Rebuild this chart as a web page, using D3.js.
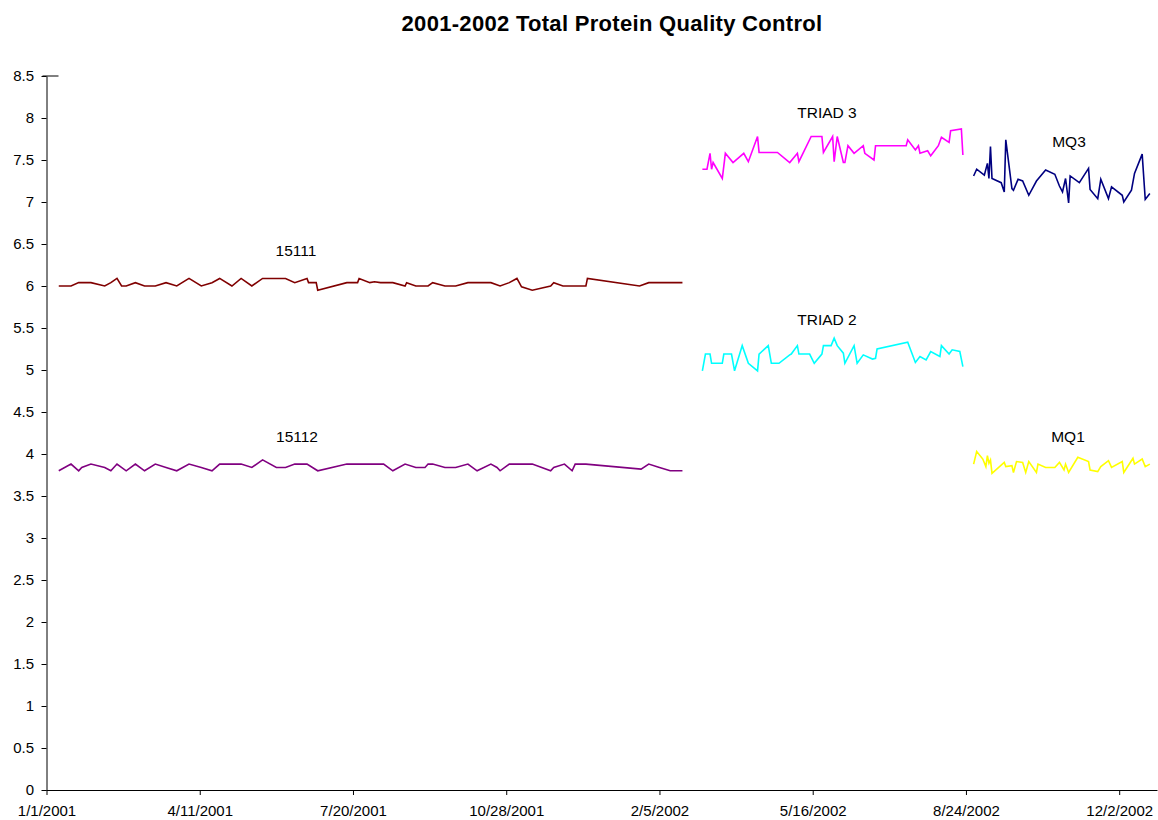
<!DOCTYPE html>
<html><head><meta charset="utf-8">
<script src="https://cdn.jsdelivr.net/npm/d3@7"></script>
<style>
html,body{margin:0;padding:0;background:#fff;}
text{font-family:"Liberation Sans",Arial,sans-serif;}
</style></head>
<body><svg id="chart" width="1158" height="820"></svg>
<script>
const chartTitle = "2001-2002 Total Protein Quality Control";
const yTickValues = [0,0.5,1,1.5,2,2.5,3,3.5,4,4.5,5,5.5,6,6.5,7,7.5,8,8.5];
const xTickLabels = ["1/1/2001","4/11/2001","7/20/2001","10/28/2001","2/5/2002","5/16/2002","8/24/2002","12/2/2002"];

const dates15111 = ["2001-01-09","2001-01-17","2001-01-22","2001-01-30","2001-02-08","2001-02-12","2001-02-16","2001-02-19","2001-02-22","2001-02-28","2001-03-06","2001-03-13","2001-03-20","2001-03-27","2001-04-04","2001-04-12","2001-04-19","2001-04-24","2001-05-02","2001-05-08","2001-05-15","2001-05-22","2001-06-06","2001-06-12","2001-06-20","2001-06-21","2001-06-26","2001-06-27","2001-07-16","2001-07-23","2001-07-24","2001-07-31","2001-08-03","2001-08-07","2001-08-15","2001-08-23","2001-08-24","2001-08-30","2001-09-07","2001-09-10","2001-09-18","2001-09-25","2001-10-03","2001-10-18","2001-10-24","2001-10-30","2001-11-04","2001-11-07","2001-11-14","2001-11-26","2001-11-28","2001-12-04","2001-12-19","2001-12-20","2002-01-23","2002-01-29","2002-02-20"];
const values15111 = [6.0,6.0,6.04,6.04,6.0,6.04,6.09,6.0,6.0,6.04,6.0,6.0,6.04,6.0,6.09,6.0,6.04,6.09,6.0,6.09,6.0,6.09,6.09,6.04,6.09,6.04,6.04,5.95,6.04,6.04,6.09,6.04,6.05,6.04,6.04,6.0,6.04,6.0,6.0,6.04,6.0,6.0,6.04,6.04,6.0,6.04,6.09,5.99,5.95,6.0,6.04,6.0,6.0,6.09,6.0,6.04,6.04];

const dates15112 = ["2001-01-09","2001-01-17","2001-01-22","2001-01-24","2001-01-30","2001-02-08","2001-02-12","2001-02-16","2001-02-22","2001-02-28","2001-03-06","2001-03-13","2001-03-20","2001-03-27","2001-04-04","2001-04-12","2001-04-19","2001-04-24","2001-05-08","2001-05-15","2001-05-22","2001-05-31","2001-06-06","2001-06-12","2001-06-20","2001-06-27","2001-07-16","2001-08-09","2001-08-15","2001-08-23","2001-08-30","2001-09-05","2001-09-07","2001-09-10","2001-09-18","2001-09-25","2001-10-03","2001-10-09","2001-10-18","2001-10-22","2001-10-24","2001-10-30","2001-11-14","2001-11-26","2001-11-28","2001-12-05","2001-12-10","2001-12-12","2001-12-19","2002-01-24","2002-01-29","2002-02-05","2002-02-12","2002-02-20"];
const values15112 = [3.8,3.88,3.8,3.84,3.88,3.84,3.8,3.88,3.8,3.88,3.8,3.88,3.84,3.8,3.88,3.84,3.8,3.88,3.88,3.84,3.93,3.84,3.84,3.88,3.88,3.8,3.88,3.88,3.8,3.88,3.84,3.84,3.88,3.88,3.84,3.84,3.88,3.8,3.88,3.84,3.8,3.88,3.88,3.8,3.84,3.88,3.8,3.88,3.88,3.82,3.88,3.84,3.8,3.8];

const datesTriad3 = ["2002-03-05","2002-03-08","2002-03-10","2002-03-11","2002-03-12","2002-03-18","2002-03-20","2002-03-25","2002-04-01","2002-04-04","2002-04-10","2002-04-11","2002-04-23","2002-05-01","2002-05-06","2002-05-07","2002-05-15","2002-05-22","2002-05-23","2002-05-29","2002-05-30","2002-06-01","2002-06-05","2002-06-06","2002-06-08","2002-06-12","2002-06-18","2002-06-19","2002-06-25","2002-06-26","2002-07-16","2002-07-17","2002-07-22","2002-07-24","2002-07-25","2002-07-30","2002-08-01","2002-08-06","2002-08-08","2002-08-13","2002-08-14","2002-08-21","2002-08-22"];
const valuesTriad3 = [7.39,7.39,7.58,7.39,7.47,7.28,7.58,7.47,7.58,7.48,7.78,7.59,7.59,7.47,7.58,7.48,7.78,7.78,7.59,7.78,7.48,7.78,7.47,7.47,7.67,7.58,7.67,7.58,7.5,7.67,7.67,7.74,7.62,7.67,7.58,7.61,7.55,7.67,7.77,7.71,7.85,7.87,7.56];

const datesTriad2 = ["2002-03-05","2002-03-07","2002-03-10","2002-03-11","2002-03-18","2002-03-19","2002-03-24","2002-03-26","2002-03-31","2002-04-04","2002-04-10","2002-04-11","2002-04-17","2002-04-19","2002-04-24","2002-05-01","2002-05-02","2002-05-06","2002-05-07","2002-05-14","2002-05-17","2002-05-22","2002-05-23","2002-05-28","2002-05-30","2002-06-01","2002-06-05","2002-06-06","2002-06-12","2002-06-14","2002-06-18","2002-06-24","2002-06-26","2002-06-27","2002-07-17","2002-07-22","2002-07-25","2002-07-29","2002-08-01","2002-08-07","2002-08-08","2002-08-13","2002-08-15","2002-08-20","2002-08-22"];
const valuesTriad2 = [4.99,5.19,5.19,5.08,5.08,5.19,5.19,4.99,5.29,5.08,4.99,5.19,5.29,5.08,5.08,5.18,5.19,5.29,5.19,5.19,5.08,5.19,5.29,5.29,5.38,5.29,5.2,5.08,5.29,5.08,5.18,5.13,5.14,5.25,5.33,5.09,5.16,5.12,5.22,5.16,5.29,5.19,5.24,5.22,5.04];

const datesMQ3 = ["2002-08-29","2002-08-31","2002-09-05","2002-09-07","2002-09-08","2002-09-09","2002-09-10","2002-09-16","2002-09-18","2002-09-19","2002-09-23","2002-09-24","2002-09-27","2002-09-30","2002-10-04","2002-10-09","2002-10-15","2002-10-21","2002-10-24","2002-10-26","2002-10-28","2002-10-30","2002-10-31","2002-11-06","2002-11-12","2002-11-13","2002-11-18","2002-11-20","2002-11-25","2002-11-27","2002-12-04","2002-12-05","2002-12-10","2002-12-12","2002-12-17","2002-12-19","2002-12-22"];
const valuesMQ3 = [7.31,7.39,7.32,7.46,7.28,7.66,7.28,7.23,7.12,7.74,7.16,7.14,7.27,7.25,7.08,7.25,7.38,7.33,7.19,7.12,7.28,6.99,7.31,7.23,7.40,7.15,7.04,7.27,7.04,7.18,7.08,7.0,7.14,7.34,7.57,7.03,7.10];

const datesMQ1 = ["2002-08-29","2002-08-31","2002-09-04","2002-09-06","2002-09-07","2002-09-08","2002-09-09","2002-09-10","2002-09-18","2002-09-19","2002-09-23","2002-09-24","2002-09-26","2002-09-30","2002-10-02","2002-10-04","2002-10-09","2002-10-10","2002-10-15","2002-10-21","2002-10-24","2002-10-27","2002-10-28","2002-10-30","2002-11-05","2002-11-12","2002-11-13","2002-11-18","2002-11-20","2002-11-25","2002-11-27","2002-12-04","2002-12-05","2002-12-11","2002-12-12","2002-12-17","2002-12-19","2002-12-22"];
const valuesMQ1 = [3.88,4.03,3.94,3.85,3.98,3.89,3.93,3.77,3.9,3.85,3.86,3.78,3.91,3.9,3.78,3.91,3.78,3.88,3.84,3.84,3.9,3.81,3.88,3.78,3.96,3.91,3.81,3.79,3.85,3.92,3.84,3.91,3.78,3.95,3.88,3.94,3.85,3.88];

const seriesNames = ["15111","15112","TRIAD 3","TRIAD 2","MQ3","MQ1"];

// ---- drawing ----
const parse = d3.utcParse("%Y-%m-%d");
const fmtDate = d3.utcFormat("%-m/%-d/%Y");
const svg = d3.select("#chart");
const L = 46.5, R = 1157.5, T = 76, B = 790;
const x0 = parse("2001-01-01");
const x = d3.scaleUtc().domain([x0, d3.utcDay.offset(x0, 725)]).range([L, R]);
const y = d3.scaleLinear().domain([0, 8.5]).range([B, T]);

svg.append("text").attr("x", 612).attr("y", 31).attr("text-anchor", "middle")
  .style("font-size", "22px").style("font-weight", "bold").style("letter-spacing", "0.3px").text(chartTitle);

const xTicks = xTickLabels.map(s => { const p = s.split("/"); return new Date(Date.UTC(+p[2], +p[0]-1, +p[1])); });
const xAxis = svg.append("g").attr("transform", `translate(0,${B})`)
  .call(d3.axisBottom(x).tickValues(xTicks).tickFormat(fmtDate).tickSize(5).tickSizeOuter(0));
xAxis.select(".domain").attr("d", `M${L},0.5H${R}`);
const yAxis = svg.append("g").attr("transform", `translate(${L},0)`)
  .call(d3.axisLeft(y).tickValues(yTickValues).tickFormat(d => String(d)).tickSize(5).tickSizeOuter(0));
[xAxis, yAxis].forEach(g => {
  g.selectAll("text").style("font-size", "15px").attr("fill", "#000").style("font-family", "Liberation Sans, Arial, sans-serif");
  g.selectAll("line,path").attr("stroke", "#000");
});
xAxis.selectAll("text").attr("y", 26).attr("dy", 0);
yAxis.selectAll("text").attr("x", -12.5);
// small tick at top of value axis
svg.append("line").attr("x1", L-4).attr("x2", L+12).attr("y1", y(8.5)).attr("y2", y(8.5)).attr("stroke", "#000");

const series = [
  {dates: dates15111, values: values15111, color: "#800000"},
  {dates: dates15112, values: values15112, color: "#800080"},
  {dates: datesTriad3, values: valuesTriad3, color: "#FF00FF"},
  {dates: datesTriad2, values: valuesTriad2, color: "#00FFFF"},
  {dates: datesMQ3, values: valuesMQ3, color: "#000080"},
  {dates: datesMQ1, values: valuesMQ1, color: "#FFFF00"}
];
const line = d3.line().x(d => x(d[0])).y(d => y(d[1]));
series.forEach(s => {
  const pts = s.dates.map((d, i) => [parse(d), s.values[i]]);
  svg.append("path").datum(pts).attr("d", line).attr("fill", "none")
    .attr("stroke", s.color).attr("stroke-width", 1.6).attr("stroke-linejoin", "miter");
});

const labelPos = [[296, 256], [297, 442], [827, 118], [827, 325], [1069, 147], [1068, 442]];
seriesNames.forEach((n, i) => {
  svg.append("text").attr("x", labelPos[i][0]).attr("y", labelPos[i][1]).attr("text-anchor", "middle")
    .style("font-size", "15.5px").attr("fill", "#000").text(n);
});
</script></body></html>
